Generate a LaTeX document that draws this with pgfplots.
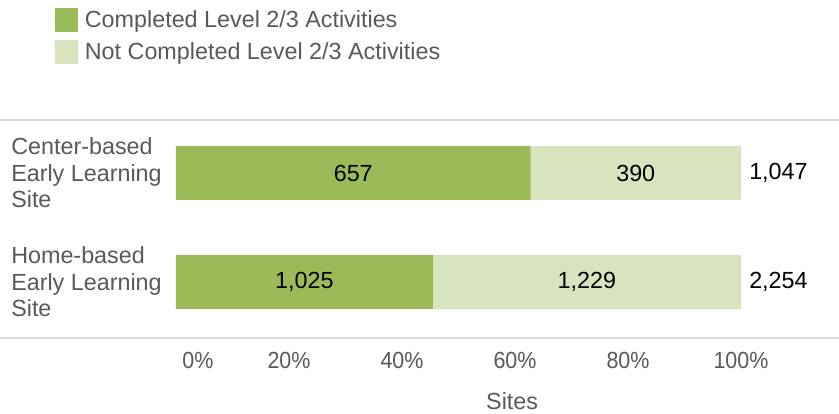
\documentclass[border=0pt]{standalone}
\usepackage{fontspec}
\setmainfont{Liberation Sans}
\newfontfamily\narrowfont[FakeStretch=0.92]{Liberation Sans}
\usepackage{pgfplots}
\usepackage{pgfplotstable}
\pgfplotsset{compat=1.18}
\definecolor{darkgreen}{HTML}{9BBB59}
\definecolor{lightgreen}{HTML}{D7E4BD}
\definecolor{txtgray}{HTML}{595959}
\definecolor{linegray}{HTML}{D9D9D9}

% percent of sites (count / total), and the counts as labels
\pgfplotstableread{
y pct label
2 62.75 657
1 45.47 1,025
}\completed
\pgfplotstableread{
y pct label
2 37.25 390
1 54.53 1,229
}\notcompleted
\pgfplotstableread{
y pct label
2 100 1,047
1 100 2,254
}\totals

\newcommand{\mainsize}{\fontsize{17.5}{19.9}\selectfont}

\pgfplotsset{
  commonaxis/.style={
    scale only axis,
    width=423.75pt, height=163.5pt,
    xmin=0, xmax=100,
    ymin=0.486, ymax=2.486,
    clip=false,
  }
}

\begin{document}
\begin{tikzpicture}
\begin{axis}[
    commonaxis,
    xbar stacked,
    bar width=40.5pt,
    ytick={1,2},
    yticklabels={Home-based\\Early Learning\\Site, Center-based\\Early Learning\\Site},
    yticklabel style={align=left, anchor=east, inner sep=0pt, xshift=-10.5pt,
      font=\mainsize, text=txtgray},
    xtick={0,20,40,60,80,100},
    xticklabels={\hspace*{33pt}0\%, 20\%, 40\%, 60\%, 80\%, 100\%},
    xticklabel style={anchor=center, yshift=-16.5pt, font=\narrowfont\mainsize, text=txtgray},
    xlabel={Sites},
    xlabel style={at={(rel axis cs:0.595,-0.289)}, anchor=center, font=\mainsize, text=txtgray},
    axis line style={draw=none},
    tick style={draw=none},
    point meta=explicit symbolic,
    legend style={at={(rel axis cs:-0.2142,1.514)}, anchor=north west,
      draw=none, fill=none, inner sep=0pt, row sep=5.5pt,
      font=\mainsize, text=txtgray, nodes={inner xsep=5pt}},
    legend cell align=left,
    legend image code/.code={\fill[#1,draw=none] (0pt,-9pt) rectangle (17.25pt,9pt);},
  ]
  \addplot[fill=darkgreen, draw=none,
    nodes near coords,
    every node near coord/.style={anchor=center, font=\mainsize, text=black}]
    table[x=pct, y=y, meta=label] {\completed};
  \addlegendentry{Completed Level 2/3 Activities}
  \addplot[fill=lightgreen, draw=none,
    nodes near coords,
    every node near coord/.style={anchor=center, font=\mainsize, text=black}]
    table[x=pct, y=y, meta=label] {\notcompleted};
  \addlegendentry{Not Completed Level 2/3 Activities}

  \draw[linegray, line width=0.9pt] (rel axis cs:-0.3115,1) -- (rel axis cs:1.1735,1);
  \draw[linegray, line width=0.9pt] (rel axis cs:-0.3115,0) -- (rel axis cs:1.1735,0);
  \coordinate (bbSW) at (rel axis cs:-0.3115,-0.3486);
  \coordinate (bbNE) at (rel axis cs:1.1735,1.5505);
\end{axis}
% totals beside each bar
\begin{axis}[
    commonaxis,
    hide axis,
    point meta=explicit symbolic,
  ]
  \addplot[only marks, mark=none,
    nodes near coords,
    every node near coord/.style={anchor=west, font=\mainsize, text=black,
      inner sep=0pt, xshift=6pt}]
    table[x=pct, y=y, meta=label] {\totals};
\end{axis}
\pgfresetboundingbox
\useasboundingbox (bbSW) rectangle (bbNE);
\end{tikzpicture}
\end{document}
